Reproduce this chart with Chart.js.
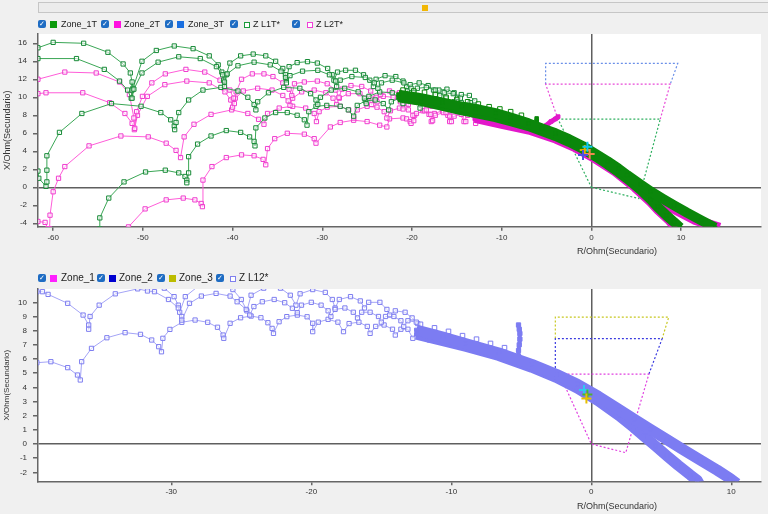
<!DOCTYPE html>
<html>
<head>
<meta charset="utf-8">
<script src="https://cdn.jsdelivr.net/npm/chart.js@4.4.1/dist/chart.umd.min.js"></script>
<style>
body{margin:0;width:768px;height:514px;background:#f0f0f0;overflow:hidden;position:relative;font-family:"Liberation Sans Narrow","Liberation Sans",sans-serif;}
.scroll{position:absolute;left:38px;top:2px;width:740px;height:9px;background:#ececec;border:1px solid #c6c6c6;}
.thumb{position:absolute;left:383px;top:2px;width:6px;height:6px;background:#f2b705;}
.lg{position:absolute;left:0;width:768px;height:12px;z-index:2;color:#222;}
.lg span{position:absolute;display:block;}
.cb{width:8px;height:8px;border-radius:2px;background:#1e6cc3;color:#fff;font:bold 7px/8px "DejaVu Sans",sans-serif;text-align:center;}
.sw{width:7px;height:7px;}
.ho{width:4px;height:4px;border:1px solid;background:#fff;}
.tx{line-height:10px;white-space:nowrap;}
canvas{position:absolute;left:0;}
</style>
</head>
<body>
<div class="scroll"><div class="thumb"></div></div>

<div class="lg" style="top:19px;font-size:9px">
  <span class="cb" style="left:38px;top:1px">✓</span><span class="sw" style="left:50px;top:1.5px;background:#0b9a0b"></span><span class="tx" style="left:61px">Zone_1T</span>
  <span class="cb" style="left:101px;top:1px">✓</span><span class="sw" style="left:114px;top:1.5px;background:#ff10e0"></span><span class="tx" style="left:124px">Zone_2T</span>
  <span class="cb" style="left:165px;top:1px">✓</span><span class="sw" style="left:177px;top:1.5px;background:#1a6fe0"></span><span class="tx" style="left:188px">Zone_3T</span>
  <span class="cb" style="left:230px;top:1px">✓</span><span class="ho" style="left:244px;top:2.5px;border-color:#1a9a3a"></span><span class="tx" style="left:253px">Z L1T*</span>
  <span class="cb" style="left:292px;top:1px">✓</span><span class="ho" style="left:307px;top:2.5px;border-color:#f040d8"></span><span class="tx" style="left:316px">Z L2T*</span>
</div>

<div class="lg" style="top:273px;font-size:10px">
  <span class="cb" style="left:38px;top:1px">✓</span><span class="sw" style="left:50px;top:1.5px;background:#ff20ff"></span><span class="tx" style="left:61px">Zone_1</span>
  <span class="cb" style="left:97px;top:1px">✓</span><span class="sw" style="left:109px;top:1.5px;background:#0000d0"></span><span class="tx" style="left:119px">Zone_2</span>
  <span class="cb" style="left:157px;top:1px">✓</span><span class="sw" style="left:169px;top:1.5px;background:#bcbc00"></span><span class="tx" style="left:179px">Zone_3</span>
  <span class="cb" style="left:216px;top:1px">✓</span><span class="ho" style="left:230px;top:2.5px;border-color:#8080ee"></span><span class="tx" style="left:239px">Z L12*</span>
</div>

<canvas id="topChart" width="768" height="250" style="top:20px"></canvas>
<canvas id="botChart" width="768" height="239" style="top:275px"></canvas>

<script>
// ---------- top chart (Z L1T*, Z L2T*) ----------
const topXRange = [-61.69, 18.91];
const topYRange = [-4.38, 17.03];

const l1tTrace1 = [
  [-61.7,15.5],[-60.0,16.1],[-56.6,16.0],[-53.9,15.0],[-52.2,13.7],[-51.4,12.7],[-51.2,11.7],[-51.2,10.8],[-51.2,9.9],
  [-51.0,10.9],[-50.1,12.7],[-48.3,13.9],[-46.0,14.5],[-43.6,14.3],[-41.8,13.4],[-41.1,12.5],[-40.9,11.7],
  [-40.6,12.6],[-39.4,13.5],[-37.6,13.9],[-35.8,13.6],[-34.6,12.9],[-34.1,12.2],[-34.0,11.6],
  [-33.6,12.4],[-32.2,12.9],[-30.5,13.0],[-29.2,12.5],[-28.5,11.8],[-28.4,11.2],
  [-28.0,11.9],[-26.7,12.3],[-25.2,12.2],[-24.2,11.6],[-23.8,11.0],
  [-23.4,11.6],[-22.2,11.9],[-20.9,11.6],[-20.1,11.0],[-19.8,10.5],
  [-19.4,11.0],[-18.4,11.1],[-17.4,10.8],[-16.9,10.2],
  [-16.4,10.5],[-15.4,10.4],[-14.6,9.9]
];
const l1tTrace2 = [
  [-61.7,14.3],[-57.4,14.3],[-54.3,13.1],[-52.6,11.8],[-51.7,10.8],[-51.3,9.9],
  [-51.1,11.0],[-50.1,14.0],[-48.5,15.2],[-46.5,15.7],[-44.4,15.4],[-42.6,14.6],[-41.6,13.6],[-41.2,12.8],[-41.0,11.9],[-40.9,11.2],
  [-40.7,12.5],[-40.3,13.8],[-39.1,14.6],[-37.7,14.8],[-36.3,14.6],[-35.2,14.0],[-34.4,13.2],[-34.1,12.5],[-34.0,11.9],
  [-33.7,13.4],[-32.8,13.85],[-31.65,13.96],[-30.55,13.8],[-29.4,13.2],[-28.9,12.5],[-28.7,11.9],
  [-28.3,12.8],[-27.4,13.0],[-26.3,13.0],[-25.4,12.5],[-24.7,11.9],[-24.3,11.2],
  [-24.0,12.0],[-23.0,12.4],[-21.8,12.3],[-21.0,11.8],[-20.6,11.2],[-20.5,10.7],
  [-20.2,11.4],[-19.2,11.6],[-18.2,11.3],[-17.6,10.8],[-17.4,10.3],
  [-17.0,10.8],[-16.1,10.9],[-15.3,10.5],[-14.9,10.0],
  [-14.5,10.3],[-13.6,10.2],[-13.0,9.6]
];
const l1tTrace3 = [
  [-61.7,1.8],[-61.6,1.0],[-60.8,0.1],[-60.7,0.6],[-60.7,1.9],[-60.7,3.5],[-59.3,6.1],[-56.8,8.2],[-53.5,9.3],[-50.2,9.0],[-48.0,8.3],[-46.9,7.5],[-46.5,6.8],[-46.45,6.4],
  [-46.3,7.2],[-46.0,8.3],[-44.9,9.7],[-43.3,10.8],[-41.3,11.1],[-39.4,10.7],[-38.3,10.0],[-37.6,9.2],[-37.4,8.6],
  [-37.2,9.5],[-36.0,10.5],[-34.3,11.1],[-32.5,11.0],[-31.3,10.4],[-30.7,9.7],[-30.5,9.2],
  [-30.2,10.0],[-29.0,10.8],[-27.5,11.0],[-26.0,10.6],[-25.3,9.9],[-25.1,9.3],
  [-24.8,10.1],[-23.6,10.6],[-22.2,10.5],[-21.3,9.9],[-21.0,9.3],
  [-20.6,10.0],[-19.4,10.2],[-18.2,9.9],[-17.6,9.2],
  [-17.2,9.8],[-16.2,9.9],[-15.3,9.5],[-14.9,8.9],
  [-14.5,9.4],[-13.5,9.4],[-12.7,8.9]
];
const l1tTrace4 = [
  [-54.8,-4.6],[-54.8,-3.4],[-53.8,-1.2],[-52.1,0.6],[-49.7,1.7],[-47.5,1.9],[-46.0,1.6],[-45.3,1.2],[-45.1,0.8],[-45.1,0.5],
  [-44.9,1.6],[-44.9,3.4],[-43.9,4.8],[-42.4,5.7],[-40.7,6.3],[-39.1,6.1],[-38.1,5.6],[-37.6,5.1],[-37.5,4.6],
  [-37.4,6.6],[-36.4,7.7],[-35.2,8.3],[-33.9,8.3],[-32.8,8.0],[-32.0,7.5],[-31.7,6.9],
  [-31.5,8.4],[-30.7,9.0],[-29.5,9.1],[-28.0,9.0],[-27.1,8.6],[-26.5,7.9],
  [-26.1,9.1],[-25.2,9.6],[-24.1,9.7],[-23.2,9.3],[-22.6,8.6],
  [-22.3,9.5],[-21.4,9.9],[-20.3,9.9],[-19.5,9.5],[-19.1,8.8],
  [-18.8,9.5],[-17.8,9.7],[-16.9,9.4],[-16.4,8.8],
  [-16.0,9.2],[-15.0,9.2],[-14.2,8.7],
  [-13.8,9.0],[-12.8,8.9],[-12.0,8.4]
];
const l1tSpike = [[-6.1,6.9],[-6.1,7.3],[-6.1,7.65]];
// dense band of Z L1T*, upper and lower strands
const l1tBandUpper = [
  [-21.5,10.3],[-19.0,9.9],[-16.6,9.4],[-14.4,8.95],[-12.9,8.7],[-10.7,8.25],[-9.0,7.75],[-7.0,7.1],[-5.5,6.55],[-4.0,6.0],
  [-2.5,5.35],[-1.0,4.6],[0.5,3.7],[1.8,2.9],[3.0,2.1],[4.0,1.35],[5.5,0.3],[6.6,-0.45],[8.0,-1.3],[9.2,-2.0],
  [10.7,-2.85],[12.2,-3.65],[13.8,-4.5]
];
const l1tBandLower = [
  [-21.5,10.0],[-19.0,9.6],[-16.6,9.05],[-14.4,8.55],[-12.9,8.25],[-10.7,7.8],[-9.0,7.35],[-7.0,6.8],[-5.5,6.25],[-4.0,5.7],
  [-2.5,5.05],[-1.0,4.3],[0.5,3.4],[1.8,2.55],[3.0,1.7],[4.0,0.95],[5.5,-0.3],[6.6,-1.35],[7.35,-2.15],[8.4,-3.15],
  [9.2,-3.85],[9.9,-4.5]
];
const l1tBandEdge = [
  [-21.0,10.8],[-19.8,10.7],[-18.6,10.55],[-17.4,10.3],[-16.2,10.0],[-15.0,9.75],[-13.8,9.5],[-12.6,9.25],[-11.4,8.95],
  [-10.2,8.7],[-9.0,8.4],[-7.8,8.0]
];

const l2tTrace1 = [
  [-61.7,12.0],[-58.7,12.8],[-55.2,12.7],[-52.6,11.7],[-51.5,10.3],[-51.0,7.7],[-50.9,6.55],
  [-50.7,8.4],[-50.05,10.1],[-49.0,11.6],[-47.5,12.6],[-45.2,13.1],[-43.1,12.8],[-41.4,11.9],[-40.3,10.8],[-39.9,9.9],[-39.8,9.3],
  [-39.6,10.6],[-39.0,12.0],[-37.8,12.6],[-36.5,12.6],[-35.5,12.3],[-34.4,11.6],[-33.7,10.9],[-33.4,10.2],
  [-33.1,11.5],[-32.0,11.7],[-30.55,11.8],[-29.45,11.5],[-28.5,10.8],[-28.15,10.0],
  [-27.8,10.9],[-26.8,11.3],[-25.6,11.2],[-24.6,10.7],[-24.0,10.0],[-23.9,9.5],
  [-23.5,10.3],[-22.5,10.7],[-21.4,10.5],[-20.7,9.9],[-20.4,9.2],
  [-20.0,9.8],[-19.1,10.0],[-18.2,9.7],[-17.8,9.0],
  [-17.4,9.5],[-16.5,9.6],[-15.8,9.1],[-15.5,8.6]
];
const l2tTrace2 = [
  [-61.7,10.4],[-60.8,10.5],[-56.7,10.5],[-53.7,9.4],[-52.0,8.2],[-51.2,7.1],[-50.95,6.4],
  [-50.6,8.0],[-49.5,10.1],[-47.55,11.4],[-45.1,11.8],[-42.6,11.6],[-40.85,10.6],[-40.2,9.7],[-40.0,8.9],
  [-39.7,9.9],[-38.8,10.7],[-37.2,11.0],[-35.6,10.8],[-34.4,10.2],[-33.8,9.6],[-33.6,9.1],
  [-33.3,9.9],[-32.3,10.6],[-30.9,10.8],[-29.6,10.5],[-28.8,9.9],[-28.4,9.2],
  [-28.1,9.9],[-27.1,10.4],[-25.8,10.4],[-24.9,9.9],[-24.5,9.2],
  [-24.2,9.8],[-23.2,10.1],[-22.1,10.0],[-21.3,9.5],[-21.0,8.7],
  [-20.6,9.3],[-19.7,9.5],[-18.8,9.3],[-18.4,8.6],
  [-18.0,9.1],[-17.1,9.2],[-16.4,8.8],[-16.2,8.3]
];
const l2tTrace3 = [
  [-60.4,-4.6],[-60.35,-3.1],[-60.0,-0.5],[-59.4,1.0],[-58.7,2.3],[-56.0,4.6],[-52.45,5.7],[-49.4,5.6],[-47.4,4.9],[-46.3,4.1],[-45.8,3.3],
  [-45.4,5.6],[-44.3,7.0],[-42.4,8.1],[-40.1,8.6],[-38.3,8.2],[-37.1,7.55],[-36.5,7.0],
  [-36.1,8.2],[-34.8,8.8],[-33.3,9.0],[-31.85,8.8],[-30.9,8.2],[-30.65,7.3],
  [-30.35,8.4],[-29.45,8.9],[-28.0,9.0],[-27.05,8.6],[-26.5,7.7],
  [-26.1,8.6],[-25.0,9.0],[-23.9,8.9],[-23.1,8.4],[-22.8,7.7],
  [-22.4,8.5],[-21.4,8.8],[-20.4,8.6],[-19.9,8.0],[-19.8,7.4],
  [-19.5,8.2],[-18.6,8.5],[-17.9,8.1],[-17.7,7.4],
  [-17.4,8.0],[-16.5,8.3],[-15.8,7.9],[-15.6,7.3],
  [-15.3,7.9],[-14.5,8.1],[-14.0,7.3]
];
const l2tTrace4 = [
  [-51.6,-4.6],[-51.6,-4.4],[-49.75,-2.4],[-47.4,-1.4],[-45.5,-1.2],[-44.2,-1.4],[-43.5,-1.8],[-43.36,-2.15],
  [-43.3,0.8],[-42.3,2.3],[-40.7,3.3],[-39.0,3.6],[-37.6,3.5],[-36.6,3.1],[-36.3,2.5],
  [-36.1,4.3],[-35.3,5.4],[-33.9,6.0],[-32.0,5.9],[-30.9,5.4],[-30.7,4.9],
  [-29.1,6.7],[-28.0,7.2],[-26.5,7.45],[-25.0,7.3],[-23.6,6.9],[-22.8,6.7],
  [-22.5,7.6],[-21.0,7.7],[-20.6,7.6],[-20.2,7.3],[-20.1,7.1],
  [-19.7,8.0],[-18.8,8.5],[-18.1,8.1],[-17.85,7.3],
  [-17.5,8.2],[-16.6,8.5],[-16.0,8.0],[-15.8,7.3],
  [-15.4,8.1],[-14.7,8.3],[-14.2,7.3],
  [-13.8,8.0],[-13.1,8.0],[-12.9,7.1]
];
const l2tTrace5 = [[-61.7,-3.8],[-60.9,-3.9],[-60.6,-4.6]];
const l2tHook = [[-5.6,6.2],[-5.0,6.9],[-4.5,7.3],[-4.0,7.6],[-3.7,7.85]];
const l2tBandLower = [
  [-13.0,7.6],[-10.0,6.95],[-7.0,6.3],[-4.0,5.3],[-1.84,4.35],[0.0,3.35],[2.57,1.7],[4.78,-0.05],[6.5,-1.65],
  [7.35,-2.55],[8.5,-3.6],[9.3,-4.5]
];
const l2tBandUpper = [[6.0,-0.55],[7.5,-1.6],[9.2,-2.4],[11.5,-3.6],[14.3,-4.5]];

const zone1T = [[0,0],[5.29,-1.25],[7.68,7.58],[-3.72,7.58],[0,0]];
const zone2T = [[-3.72,7.58],[-5.1,11.45],[8.79,11.45],[7.68,7.58]];
const zone3T = [[-5.1,11.45],[-5.1,13.76],[9.63,13.76],[8.79,11.45]];
const topMarks = [[-0.74,4.14],[-0.44,4.5],[-0.19,3.7],[-0.93,3.6]];
const topMarkColors = ['#e0b000','#10c8f0','#f08a50','#5050e0'];

// ---------- bottom chart (Z L12*) ----------
const botXRange = [-39.52, 12.12];
const botYRange = [-2.63, 10.94];

const l12Trace1 = [
  [-39.6,10.75],[-39.2,10.75],[-38.8,10.56],[-37.4,9.93],[-36.3,9.1],[-35.9,8.4],[-35.9,8.1],
  [-35.8,9.0],[-35.15,9.8],[-34.0,10.6],[-32.4,10.95],[-31.7,10.8],[-31.2,10.75],[-30.2,10.2],[-29.5,9.6],[-29.25,9.0],[-29.25,8.75],
  [-28.7,9.93],[-27.85,10.44],[-26.8,10.63],[-25.8,10.44],[-25.3,10.04],[-24.65,9.5],[-24.4,9.1],
  [-24.1,9.7],[-23.5,10.04],[-22.65,10.2],[-21.9,9.97],[-21.35,9.58],[-21.0,9.27],
  [-20.7,9.8],[-20.0,10.0],[-19.3,9.8],[-18.8,9.4],[-18.6,9.0],
  [-18.3,9.5],[-17.6,9.6],[-17.0,9.3],[-16.7,8.9],
  [-16.4,9.3],[-15.8,9.3],[-15.2,9.0],[-15.0,8.6],
  [-14.7,9.0],[-14.1,9.0],[-13.6,8.7],[-13.4,8.3],
  [-13.1,8.7],[-12.5,8.6]
];
const l12Trace2 = [
  [-39.6,5.74],[-38.6,5.81],[-37.4,5.39],[-36.7,4.87],[-36.5,4.52],
  [-36.4,5.81],[-35.7,6.75],[-34.6,7.5],[-33.3,7.86],[-32.2,7.74],[-31.4,7.34],[-30.9,6.87],[-30.7,6.51],
  [-30.6,7.46],[-30.1,8.09],[-29.25,8.59],[-28.3,8.75],[-27.4,8.59],[-26.7,8.24],[-26.3,7.69],[-26.25,7.46],
  [-25.8,8.52],[-25.05,8.91],[-24.3,9.03],[-23.6,8.91],[-23.1,8.56],[-22.8,8.16],[-22.7,7.81],
  [-22.3,8.63],[-21.75,8.99],[-21.0,9.1],[-20.3,8.98],[-19.9,8.52],[-19.9,7.93],
  [-19.5,8.6],[-18.8,8.8],[-18.1,8.6],[-17.7,7.93],
  [-17.3,8.5],[-16.6,8.6],[-16.0,8.3],[-15.8,7.81],
  [-15.4,8.3],[-14.8,8.4],[-14.2,8.1],[-14.0,7.69],
  [-13.6,8.1],[-13.1,8.1],[-12.75,7.46],
  [-12.4,7.9],[-11.9,7.9],[-11.56,7.34]
];
const l12Trace3 = [
  [-34.5,12.0],[-32.0,11.6],[-30.5,11.0],[-29.8,10.4],[-29.5,9.8],[-29.4,9.3],
  [-29.0,10.4],[-28.0,11.2],[-26.5,11.4],[-25.6,10.9],[-25.0,10.2],[-24.6,9.4],
  [-24.3,10.5],[-23.4,11.0],[-22.2,11.0],[-21.5,10.5],[-21.1,9.8],
  [-20.8,10.6],[-19.9,10.9],[-19.0,10.7],[-18.5,10.2],[-18.3,9.6],
  [-18.0,10.2],[-17.2,10.4],[-16.5,10.1],[-16.2,9.6],
  [-15.9,10.0],[-15.1,10.0],[-14.6,9.5],[-14.4,9.1],
  [-14.0,9.4],[-13.3,9.3],[-12.8,8.9],[-12.4,8.5]
];
const l12Hook = [[-5.2,6.2],[-5.2,6.6],[-5.15,7.0],[-5.1,7.4],[-5.1,7.8],[-5.15,8.1],[-5.2,8.4]];
const l12BandUpper = [
  [-12.5,8.05],[-10.6,7.55],[-9.0,7.1],[-6.6,6.42],[-4.25,5.62],[-2.5,4.92],[-1.0,4.22],[0.5,3.37],[2.0,2.42],
  [3.06,1.75],[4.2,1.05],[5.42,0.3],[6.6,-0.42],[7.78,-1.13],[9.0,-1.85],[9.9,-2.42],[10.4,-2.8]
];
const l12BandLower = [
  [-12.5,7.75],[-10.6,7.3],[-9.0,6.9],[-6.6,6.25],[-4.25,5.42],[-2.5,4.7],[-1.0,3.95],[0.5,3.05],[2.0,2.0],
  [3.0,1.2],[3.77,0.55],[4.6,-0.15],[5.42,-0.85],[6.2,-1.5],[7.08,-2.19],[7.55,-2.54],[7.7,-2.8]
];
const l12BandEdge = [
  [-12.2,8.45],[-11.2,8.2],[-10.2,7.95],[-9.2,7.65],[-8.2,7.4],[-7.2,7.1],[-6.2,6.8]
];
const zone1 = [[-2.27,4.93],[4.11,4.93],[2.46,-0.61],[0,0],[-2.27,4.93]];
const zone2 = [[-2.27,4.93],[-2.57,5.2],[-2.57,7.44],[5.06,7.44],[4.11,4.93]];
const zone3 = [[-2.57,7.44],[-2.57,8.96],[5.53,8.96],[5.06,7.44]];
const botMarks = [[-0.52,3.81],[-0.28,3.5],[-0.35,3.22]];
const botMarkColors = ['#30c8f0','#50b030','#e8c000'];

// ---------- helpers ----------
const FONT = "'Liberation Sans Narrow','Liberation Sans',sans-serif";
const toXY = pts => pts.map(p => ({x: p[0], y: p[1]}));

function trace(pts, line, mark, fill, order) {
  return {data: toXY(pts), showLine: true, borderColor: line, borderWidth: 1,
    pointStyle: 'rect', pointRadius: 3, pointBorderWidth: 1,
    pointBorderColor: mark, pointBackgroundColor: fill, order: order};
}
function band(pts, color, width, order, pr) {
  return {data: toXY(pts), showLine: true, borderColor: color, borderWidth: width,
    borderJoinStyle: 'round', borderCapStyle: 'butt',
    pointStyle: 'rect', pointRadius: pr, pointBorderWidth: 1,
    pointBorderColor: color, pointBackgroundColor: color, order: order};
}
function squares(pts, color, order) {
  return {data: toXY(pts), showLine: false, pointStyle: 'rect', pointRadius: 3.2,
    pointBorderWidth: 1, pointBorderColor: color, pointBackgroundColor: 'rgba(255,255,255,0.3)', order: order};
}
function zone(pts, color, order) {
  return {data: toXY(pts), showLine: true, borderColor: color, borderWidth: 1.2,
    borderDash: [2, 2], pointRadius: 0, fill: false, order: order};
}
function marks(pts, colors) {
  return {data: toXY(pts), showLine: false, pointStyle: 'cross', pointRadius: 5,
    pointBorderWidth: 2, pointBorderColor: colors, order: 0};
}

const plotBg = {
  id: 'plotBg',
  beforeDraw(c) {
    const a = c.chartArea, x = c.ctx;
    x.save(); x.fillStyle = '#fff';
    x.fillRect(a.left, a.top, a.right - a.left, a.bottom - a.top);
    x.restore();
  }
};
const xTitle = {
  id: 'xTitle',
  afterDraw(c, args, o) {
    const x = c.ctx;
    x.save(); x.font = '9px ' + FONT; x.fillStyle = '#333';
    x.textAlign = 'center'; x.textBaseline = 'middle';
    x.fillText(o.text, o.x, o.y);
    x.restore();
  }
};

function makeChart(id, xr, yr, ystep, xAxisH, yTitleSize, datasets) {
  const zeroLine = ctx => (ctx.tick && ctx.tick.value === 0) ? '#5f5f5f' : 'rgba(0,0,0,0)';
  return new Chart(document.getElementById(id), {
    type: 'scatter',
    data: {datasets: datasets},
    options: {
      responsive: false, animation: false, events: [],
      layout: {padding: {top: 14, left: 0, right: 0, bottom: 0}},
      plugins: {legend: {display: false}, tooltip: {enabled: false},
        xTitle: {text: 'R/Ohm(Secundario)', x: 617, y: 232}},
      scales: {
        x: {type: 'linear', min: xr[0], max: xr[1],
          ticks: {stepSize: 10, includeBounds: false, color: '#333', padding: 2, font: {family: FONT, size: 8}},
          grid: {color: zeroLine, lineWidth: 1.5, tickLength: 4, tickColor: '#666', drawTicks: true},
          border: {color: '#666', width: 1.5},
          afterFit(s) { s.height = xAxisH; }},
        y: {type: 'linear', min: yr[0], max: yr[1],
          ticks: {stepSize: ystep, includeBounds: false, color: '#333', padding: 6, font: {family: FONT, size: 8}},
          grid: {color: zeroLine, lineWidth: 1.5, tickLength: 5, tickColor: '#666', drawTicks: true},
          border: {color: '#666', width: 1.5},
          title: {display: true, text: 'X/Ohm(Secundario)', color: '#333', padding: {top: 2, bottom: 0},
            font: {family: "'Liberation Sans',sans-serif", size: yTitleSize}},
          afterFit(s) { s.width = 38; }}
      }
    },
    plugins: [plotBg, xTitle]
  });
}

const gLine = '#3aa655', gMark = '#178a37', gFill = 'rgba(255,255,255,0.55)', gBand = '#0b870b';
const mLine = '#ff5cd8', mMark = '#f03ccf', mFill = 'rgba(255,255,255,0.55)', mBand = '#e218ca';
const bLine = '#a4a4f6', bMark = '#7e7ef0', bFill = 'rgba(255,255,255,0.5)', bBand = '#7c7cf2';

makeChart('topChart', topXRange, topYRange, 2, 43.3, 9, [
  marks(topMarks, topMarkColors),
  band(l1tBandUpper, gBand, 10, 1, 2.5),
  band(l1tBandLower, gBand, 10, 1, 2.5),
  band(l1tSpike, gBand, 4, 1, 2.5),
  squares(l1tBandEdge, gBand, 1),
  trace(l1tTrace1, gLine, gMark, gFill, 2),
  trace(l1tTrace2, gLine, gMark, gFill, 2),
  trace(l1tTrace3, gLine, gMark, gFill, 2),
  trace(l1tTrace4, gLine, gMark, gFill, 2),
  band(l2tBandLower, mBand, 8, 3, 2.5),
  band(l2tBandUpper, mBand, 10, 3, 0),
  band(l2tHook, mBand, 5, 3, 2.5),
  trace(l2tTrace1, mLine, mMark, mFill, 4),
  trace(l2tTrace2, mLine, mMark, mFill, 4),
  trace(l2tTrace3, mLine, mMark, mFill, 4),
  trace(l2tTrace4, mLine, mMark, mFill, 4),
  trace(l2tTrace5, mLine, mMark, mFill, 4),
  zone(zone1T, '#2fb060', 5),
  zone(zone2T, '#e84ad8', 6),
  zone(zone3T, '#6a8fe8', 7)
]);

makeChart('botChart', botXRange, botYRange, 1, 32.7, 8, [
  marks(botMarks, botMarkColors),
  band(l12BandUpper, bBand, 11, 1, 2.5),
  band(l12BandLower, bBand, 11, 1, 2.5),
  band(l12Hook, bBand, 4, 1, 3),
  squares(l12BandEdge, bBand, 1),
  trace(l12Trace1, bLine, bMark, bFill, 2),
  trace(l12Trace2, bLine, bMark, bFill, 2),
  trace(l12Trace3, bLine, bMark, bFill, 2),
  zone(zone1, '#e040e0', 3),
  zone(zone2, '#3a3ae0', 4),
  zone(zone3, '#c8c820', 5)
]);
</script>
</body>
</html>
